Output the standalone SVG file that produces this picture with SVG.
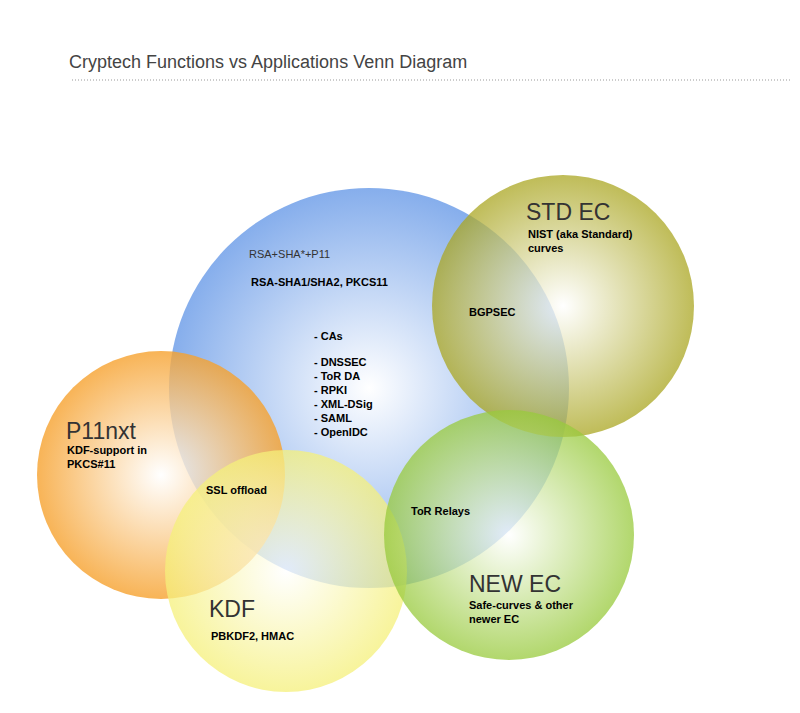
<svg xmlns="http://www.w3.org/2000/svg" width="800" height="713" viewBox="0 0 800 713">
<style>
.t{font-family:"Liberation Sans",Arial,sans-serif;font-size:11px;font-weight:bold;fill:#000}
.big{font-family:"Liberation Sans",Arial,sans-serif;font-size:23px;fill:#333}
</style>
<defs>
<radialGradient id="gb" cx="0.5" cy="0.5" r="0.5"><stop offset="0" stop-color="#fff"/><stop offset="1" stop-color="#86aeec"/></radialGradient>
<radialGradient id="gs" cx="0.5" cy="0.5" r="0.5"><stop offset="0" stop-color="#fff"/><stop offset="1" stop-color="#aaa621"/></radialGradient>
<radialGradient id="go" cx="0.5" cy="0.5" r="0.5"><stop offset="0" stop-color="#fff"/><stop offset="1" stop-color="#f6a12d"/></radialGradient>
<radialGradient id="gy" cx="0.5" cy="0.5" r="0.5"><stop offset="0" stop-color="#fff"/><stop offset="1" stop-color="#f5f07a"/></radialGradient>
<radialGradient id="gg" cx="0.5" cy="0.5" r="0.5"><stop offset="0" stop-color="#fff"/><stop offset="1" stop-color="#98ca3c"/></radialGradient>
</defs>
<rect width="800" height="713" fill="#fff"/>
<text x="69" y="68" font-family="Liberation Sans,Arial,sans-serif" font-size="18" fill="#444">Cryptech Functions vs Applications Venn Diagram</text>
<line x1="72" y1="80" x2="792" y2="80" stroke="#999" stroke-dasharray="1,2"/>
<g id="rsa"><circle cx="369" cy="388" r="200" fill="url(#gb)"/></g>
<g id="stdec"><circle cx="563" cy="306" r="131" fill="url(#gs)" opacity="0.75"/></g>
<g id="p11nxt"><circle cx="161" cy="475" r="124" fill="url(#go)" opacity="0.8"/></g>
<g id="kdf"><circle cx="286" cy="571" r="121" fill="url(#gy)" opacity="0.75"/></g>
<g id="newec"><circle cx="509" cy="535" r="125" fill="url(#gg)" opacity="0.75"/></g>
<g id="connectors"></g>
<g id="labels">
<text x="249" y="258" font-family="Liberation Sans,Arial,sans-serif" font-size="11" fill="#333">RSA+SHA*+P11</text>
<text class="t" x="251" y="286">RSA-SHA1/SHA2, PKCS11</text>
<text class="t" x="314" y="340">- CAs</text>
<text class="t" x="314" y="366">- DNSSEC</text>
<text class="t" x="314" y="380">- ToR DA</text>
<text class="t" x="314" y="394">- RPKI</text>
<text class="t" x="314" y="408">- XML-DSig</text>
<text class="t" x="314" y="422">- SAML</text>
<text class="t" x="314" y="436">- OpenIDC</text>
<text class="big" x="526" y="220">STD EC</text>
<text class="t" x="528" y="238">NIST (aka Standard)</text>
<text class="t" x="528" y="252">curves</text>
<text class="t" x="469" y="316">BGPSEC</text>
<text class="big" x="66" y="439" font-size="22">P11nxt</text>
<text class="t" x="67" y="454">KDF-support in</text>
<text class="t" x="67" y="468">PKCS#11</text>
<text class="t" x="206" y="494">SSL offload</text>
<text class="t" x="411" y="515">ToR Relays</text>
<text class="big" x="469" y="592">NEW EC</text>
<text class="t" x="469" y="609">Safe-curves &amp; other</text>
<text class="t" x="469" y="623">newer EC</text>
<text class="big" x="209" y="617">KDF</text>
<text class="t" x="211" y="640">PBKDF2, HMAC</text>
</g>
</svg>
